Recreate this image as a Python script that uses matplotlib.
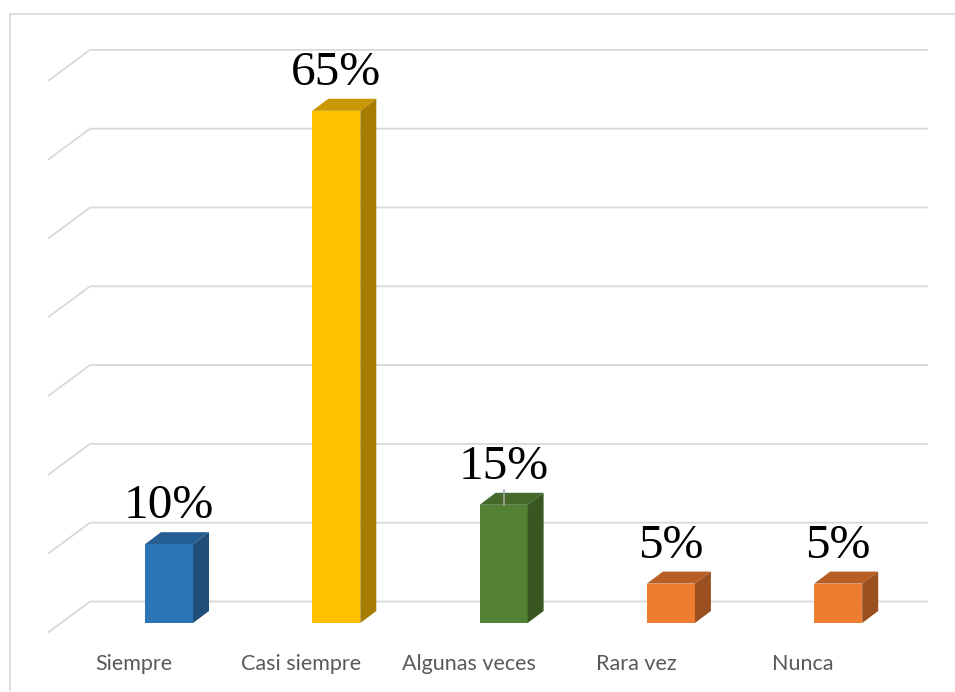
import matplotlib.pyplot as plt
from matplotlib.patches import Polygon
from matplotlib.lines import Line2D

# Données du graphique
categories = ['Siempre', 'Casi siempre', 'Algunas veces', 'Rara vez', 'Nunca']
valeurs = [10, 65, 15, 5, 5]
etiquettes = ['10%', '65%', '15%', '5%', '5%']

# couleurs (face, dessus, côté)
couleurs = [
    ('#2E75B6', '#255E92', '#1F4E79'),
    ('#FFC000', '#C99700', '#A67D00'),
    ('#548235', '#44692B', '#385723'),
    ('#ED7D31', '#B95F23', '#9A5020'),
    ('#ED7D31', '#B95F23', '#9A5020'),
]

fig = plt.figure(figsize=(9.55, 6.92), dpi=100)
ax = fig.add_axes([0, 0, 1, 1])
ax.set_xlim(-1.0102, 4.6981)
ax.set_ylim(-8.756, 79.06)
ax.axis('off')

# profondeur des barres et du mur (unités des données)
largeur = 0.287
bar_dx, bar_dy = 0.0956, 1.523
mur_x0, mur_x1, mur_x2 = -0.723, -0.472, 4.537
sol_y, mur_y = -1.206, 2.73

# lignes de grille en perspective
for v in range(0, 71, 10):
    ax.plot([mur_x0, mur_x1, mur_x2], [v + sol_y, v + mur_y, v + mur_y],
            color='#D9D9D9', lw=1.3, solid_capstyle='butt', zorder=1)

# barres 3D
for i, (val, (c_face, c_top, c_side)) in enumerate(zip(valeurs, couleurs)):
    x0 = i - largeur / 2
    x1 = i + largeur / 2
    ax.bar(i, val, width=largeur, color=c_face, zorder=3)
    top = [(x0, val), (x1, val), (x1 + bar_dx, val + bar_dy), (x0 + bar_dx, val + bar_dy)]
    side = [(x1, 0), (x1 + bar_dx, bar_dy), (x1 + bar_dx, val + bar_dy), (x1, val)]
    ax.add_patch(Polygon(top, closed=True, facecolor=c_top, edgecolor='none', zorder=3))
    ax.add_patch(Polygon(side, closed=True, facecolor=c_side, edgecolor='none', zorder=3))
    ax.text(i, val + bar_dy + 1.75, etiquettes[i], ha='center', va='baseline',
            fontsize=35.5, family='Liberation Serif', color='black', zorder=5)

# petit trait sur la barre verte
ax.plot([2, 2], [valeurs[2], valeurs[2] + bar_dy + 0.3], color='#A6A6A6', lw=1.2, zorder=4)

# étiquettes des catégories
for i, cat in enumerate(categories):
    ax.text(i - 0.209, -5.15, cat, ha='center', va='center',
            fontsize=15.5, family='Lato', color='#595959')

# bordure de la zone du graphique
fig.add_artist(Line2D([9.5 / 955, 9.5 / 955], [1 - 13.5 / 692, 1 - 690 / 692],
                      transform=fig.transFigure, color='#D9D9D9', lw=1.2))
fig.add_artist(Line2D([9.5 / 955, 1], [1 - 13.5 / 692, 1 - 13.5 / 692],
                      transform=fig.transFigure, color='#D9D9D9', lw=1.2))

fig.savefig('out.png', dpi=100)
